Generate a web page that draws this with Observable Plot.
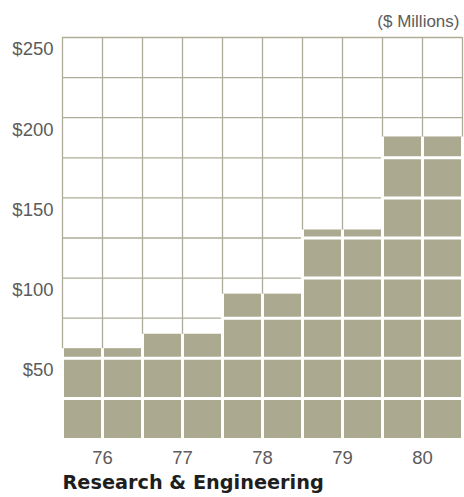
<!DOCTYPE html>
<html>
<head>
<meta charset="utf-8">
<script src="https://cdn.jsdelivr.net/npm/d3@7"></script>
<script src="https://cdn.jsdelivr.net/npm/@observablehq/plot@0.6"></script>
<style>
  html, body { margin: 0; padding: 0; background: #fff; }
  #chart svg { display: block; }
</style>
</head>
<body>
<div id="chart"></div>
<script>
// Data
const years = [76, 77, 78, 79, 80];
const values = [56, 65, 90, 130, 188]; // $ Millions
const yTickValues = [50, 100, 150, 200, 250];
const gridStepValues = [25, 50, 75, 100, 125, 150, 175, 200, 225, 250];
const unitLabel = "($ Millions)";
const titleText = "Research & Engineering";

const rows = years.map((year, i) => ({year, value: values[i]}));

// grid x positions: edges and mid of each year column
const xGrid = [];
years.forEach((y) => { xGrid.push(y - 0.5, y); });
xGrid.push(years[years.length - 1] + 0.5);

// white lines over bars
const whiteV = [];
rows.forEach(({year, value}) => {
  [year - 0.5, year, year + 0.5].forEach((x) => whiteV.push({x, value}));
});
const whiteH = [];
rows.forEach(({year, value}) => {
  gridStepValues.filter((t) => t < value).forEach((t) => whiteH.push({year, t}));
});

const font = "'Liberation Sans', Helvetica, Arial, sans-serif";
const boldFont = "'DejaVu Sans', 'Liberation Sans', sans-serif";
const barFill = "#abaa90";
const gridGray = "#aeac98";

const chart = Plot.plot({
  width: 464,
  height: 497,
  marginTop: 37,
  marginBottom: 59,
  marginLeft: 62,
  marginRight: 2,
  style: {fontFamily: font, background: "#fff"},
  x: {domain: [75.5, 80.5], axis: null},
  y: {domain: [0, 250], axis: null},
  marks: [
    Plot.ruleY(gridStepValues, {y: (d) => d, stroke: gridGray, strokeWidth: 1.3}),
    Plot.ruleX(xGrid, {x: (d) => d, y1: 0, y2: 250, stroke: gridGray, strokeWidth: 1.3}),
    Plot.rectY(rows, {x1: (d) => d.year - 0.5, x2: (d) => d.year + 0.5, y1: 0, y2: "value", fill: barFill}),
    Plot.ruleX(whiteV, {x: "x", y1: 0, y2: "value", stroke: "#fff", strokeWidth: 3}),
    Plot.ruleY(whiteH, {y: "t", x1: (d) => d.year - 0.5, x2: (d) => d.year + 0.5, stroke: "#fff", strokeWidth: 3}),
    Plot.axisY({
      ticks: yTickValues, tickFormat: (d) => "$" + d, tickSize: 0, tickPadding: 9,
      dy: 12, fontSize: 18.5, fill: "#5c5c5c", fontFamily: font, label: null
    }),
    Plot.axisX({
      ticks: years, tickFormat: (d) => String(d), tickSize: 0, tickPadding: 12,
      fontSize: 18.5, fill: "#5c5c5c", fontFamily: font, label: null
    }),
    Plot.text([unitLabel], {
      frameAnchor: "top-right", text: (d) => d, dy: -23, dx: -3, textAnchor: "end",
      fontSize: 17, fill: "#5c5c5c", fontFamily: font
    }),
    Plot.text([titleText], {
      frameAnchor: "bottom-left", text: (d) => d, dy: 50, textAnchor: "start",
      fontSize: 19.3, fontWeight: "bold", fill: "#1e1e1e", fontFamily: boldFont
    })
  ]
});

document.getElementById("chart").appendChild(chart);
</script>
</body>
</html>
